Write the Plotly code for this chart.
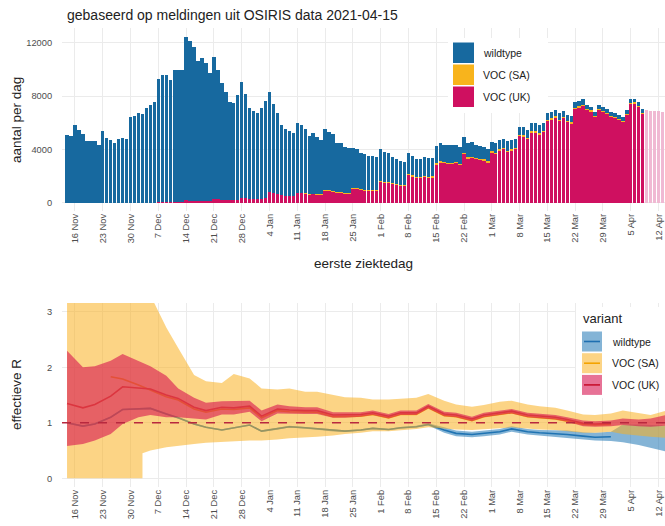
import pandas as pd
import plotly.graph_objects as go

FONT = "Liberation Sans, Arial, Helvetica, sans-serif"
W, H = 665, 526
ML, MR, MT, MB = 62, 0, 28, 39
PW, PH = W - ML - MR, H - MT - MB


def px_x(px):
    return (px - ML) / PW


def px_y(py):
    return (H - MB - py) / PH


# ---------------- top panel: cases per day by variant ----------------
bar_start = "2020-11-14"
total_per_day = [
    5100, 5000, 5800, 5450, 5150, 4650, 4650, 4600, 4300, 5350,
    4850, 4700, 4450, 4750, 4850, 4800, 6400, 6500, 6700, 6650,
    7100, 7300, 7550, 9250, 9550, 9550, 9200, 9950, 9950, 9950,
    12450, 12150, 11650, 10650, 10850, 10500, 9750, 10950, 9950, 8950,
    8300, 7550, 7500, 8100, 9050, 8150, 7100, 6850, 6750, 7100,
    7600, 8300, 7400, 6700, 5850, 5550, 5350, 5250, 6000, 5850,
    5500, 5000, 5200, 4900, 4700, 5550, 5300, 5150, 4500, 4450,
    4200, 4100, 4100, 4000, 3750, 3650, 3500, 3500, 3450, 4000,
    3800, 3700, 3450, 3300, 3100, 3050, 3700, 3500, 3300, 3300,
    3450, 3350, 3350, 4250, 4450, 4350, 4300, 4300, 4350, 4150,
    4900, 4450, 4550, 4350, 4250, 4200, 4000, 4550, 4450, 4700,
    4800, 4600, 4700, 4800, 5700, 5650, 5450, 5950, 5950, 5800,
    6000, 6700, 6800, 6950, 6700, 6900, 6600, 6500, 7550, 7650,
    7750, 7300, 7200, 6800, 7300, 7150, 7000, 6800, 6700, 6550,
    6400, 6950, 7750, 7800, 7550, 7000,
]
voc_uk = [
    0, 0, 0, 0, 0, 0, 0, 0, 0, 0,
    0, 0, 0, 0, 0, 0, 0, 0, 0, 0,
    0, 0, 0, 40, 45, 45, 45, 50, 50, 50,
    170, 165, 160, 150, 150, 150, 140, 260, 250, 230,
    210, 190, 190, 200, 380, 350, 310, 300, 290, 310,
    330, 780, 700, 640, 560, 530, 510, 500, 740, 720,
    690, 640, 660, 630, 600, 940, 900, 880, 770, 760,
    720, 700, 1060, 1040, 980, 950, 910, 910, 900, 1620,
    1550, 1510, 1420, 1360, 1280, 1260, 2110, 2000, 1890, 1890,
    1970, 1910, 1920, 2900, 3050, 3000, 2950, 2950, 3000, 2850,
    3700, 3350, 3400, 3300, 3250, 3200, 3050, 3800, 3700, 3950,
    4050, 3850, 3950, 4050, 5050, 5000, 4800, 5300, 5300, 5150,
    5350, 6180, 6280, 6430, 6180, 6380, 6080, 5980, 7080, 7180,
    7280, 6970, 6870, 6470, 6970, 6820, 6670, 6470, 6370, 6220,
    6070, 6620, 7420, 7470, 7220, 6670,
]
voc_sa = [
    0, 0, 0, 0, 0, 0, 0, 0, 0, 0,
    0, 0, 0, 0, 0, 0, 0, 0, 0, 0,
    0, 0, 0, 0, 0, 0, 0, 0, 0, 0,
    0, 0, 0, 0, 0, 0, 0, 0, 0, 0,
    0, 0, 0, 0, 0, 0, 0, 0, 0, 0,
    0, 0, 0, 0, 0, 0, 0, 0, 0, 0,
    20, 20, 20, 20, 20, 20, 20, 20, 20, 20,
    20, 20, 40, 40, 40, 40, 40, 40, 40, 40,
    40, 40, 40, 40, 40, 40, 50, 50, 50, 50,
    50, 50, 50, 50, 50, 50, 50, 50, 50, 50,
    60, 60, 60, 60, 60, 60, 60, 60, 60, 60,
    60, 60, 60, 60, 60, 60, 60, 60, 60, 60,
    60, 60, 60, 60, 60, 60, 60, 60, 60, 60,
    60, 60, 60, 60, 60, 60, 60, 60, 60, 60,
    60, 60, 60, 60, 60, 60,
]
incomplete_start = "2021-04-09"
incomplete_total = [6950, 6900, 6880, 6850, 6800]

week_labels = ["16 Nov", "23 Nov", "30 Nov", "7 Dec", "14 Dec", "21 Dec", "28 Dec",
               "4 Jan", "11 Jan", "18 Jan", "25 Jan", "1 Feb", "8 Feb", "15 Feb",
               "22 Feb", "1 Mar", "8 Mar", "15 Mar", "22 Mar", "29 Mar", "5 Apr", "12 Apr"]
count_ticks = [0, 4000, 8000, 12000]
r_ticks = [0, 1, 2, 3]

# ---------------- bottom panel: effective R per variant ----------------
r_dates = ["2020-11-14", "2020-11-18", "2020-11-21", "2020-11-25", "2020-11-28",
           "2020-12-02", "2020-12-05", "2020-12-09", "2020-12-12", "2020-12-16",
           "2020-12-19", "2020-12-23", "2020-12-26", "2020-12-30", "2021-01-02",
           "2021-01-06", "2021-01-09", "2021-01-13", "2021-01-16", "2021-01-20",
           "2021-01-23", "2021-01-27", "2021-01-30", "2021-02-03", "2021-02-06",
           "2021-02-10", "2021-02-13", "2021-02-17", "2021-02-20", "2021-02-24",
           "2021-02-27", "2021-03-03", "2021-03-06", "2021-03-10", "2021-03-13",
           "2021-03-17", "2021-03-20", "2021-03-24", "2021-03-27", "2021-03-31",
           "2021-04-03", "2021-04-07", "2021-04-10", "2021-04-14"]
wt_r = [1.00, 0.94, 0.98, 1.10, 1.24, 1.25, 1.26, 1.16, 1.09, 0.98,
        0.92, 0.87, 0.91, 0.96, 0.85, 0.89, 0.93, 0.91, 0.89, 0.86,
        0.85, 0.87, 0.90, 0.88, 0.91, 0.93, 0.97, 0.87, 0.81, 0.79,
        0.81, 0.84, 0.89, 0.84, 0.82, 0.81, 0.79, 0.76, 0.74, 0.75,
        None, None, None, None]
wt_hi = [1.015, 0.955, 0.995, 1.115, 1.255, 1.265, 1.275, 1.175, 1.105, 0.995,
         0.935, 0.885, 0.925, 0.975, 0.865, 0.905, 0.945, 0.925, 0.905, 0.875,
         0.865, 0.885, 0.915, 0.895, 0.925, 0.945, 0.99, 0.92, 0.86, 0.84,
         0.86, 0.89, 0.94, 0.89, 0.87, 0.87, 0.86, 0.83, 0.82, 0.84,
         0.97, 0.97, 0.96, 0.95]
wt_lo = [0.985, 0.925, 0.965, 1.085, 1.225, 1.235, 1.245, 1.145, 1.075, 0.965,
         0.905, 0.855, 0.895, 0.945, 0.835, 0.875, 0.915, 0.895, 0.875, 0.845,
         0.835, 0.855, 0.885, 0.865, 0.895, 0.915, 0.95, 0.82, 0.76, 0.74,
         0.76, 0.79, 0.84, 0.79, 0.77, 0.75, 0.72, 0.70, 0.68, 0.67,
         0.65, 0.60, 0.55, 0.48]
sa_r = [None, None, None, 1.83, 1.79, 1.68, 1.59, 1.47, 1.41, 1.25,
        1.19, 1.25, 1.24, 1.27, 1.09, 1.22, 1.20, 1.19, 1.19, 1.11,
        1.11, 1.12, 1.15, 1.09, 1.15, 1.15, 1.27, 1.13, 1.11, 1.04,
        1.11, 1.15, 1.18, 1.11, 1.09, 1.07, 1.03, 0.97, 0.96, 0.97,
        None, None, None, None]
sa_hi = [4.0, 4.0, 4.0, 4.0, 4.0, 4.0, 3.3, 2.72, 2.35, 1.86,
         1.75, 1.72, 1.88, 1.80, 1.62, 1.60, 1.62, 1.56, 1.56, 1.50,
         1.46, 1.45, 1.42, 1.42, 1.43, 1.45, 1.52, 1.40, 1.33, 1.29,
         1.32, 1.38, 1.40, 1.33, 1.30, 1.27, 1.22, 1.15, 1.14, 1.17,
         1.22, 1.17, 1.14, 1.22]
sa_lo_dates = ["2020-11-14", "2020-12-03", "2020-12-03"] + r_dates[6:]
sa_lo = [0.0, 0.0, 0.45,
         0.50, 0.56, 0.59, 0.62, 0.64, 0.66, 0.67, 0.68, 0.68, 0.70,
         0.72, 0.74, 0.75, 0.77, 0.80, 0.82, 0.85, 0.85, 0.86, 0.89,
         0.92, 0.90, 0.88, 0.87, 0.88, 0.90, 0.92, 0.90, 0.88, 0.87,
         0.85, 0.82, 0.82, 0.84, 0.80, 0.77, 0.75, 0.73]
uk_r = [1.35, 1.27, 1.33, 1.48, 1.65, 1.63, 1.61, 1.50, 1.44, 1.28,
        1.22, 1.28, 1.27, 1.30, 1.12, 1.25, 1.23, 1.22, 1.22, 1.14,
        1.14, 1.15, 1.18, 1.12, 1.18, 1.18, 1.30, 1.16, 1.14, 1.07,
        1.14, 1.18, 1.21, 1.14, 1.12, 1.10, 1.06, 0.99, 0.98, 0.99,
        None, None, None, None]
uk_hi = [2.30, 2.00, 2.02, 2.12, 2.24, 2.12, 2.02, 1.85, 1.62, 1.45,
         1.36, 1.39, 1.40, 1.40, 1.22, 1.33, 1.30, 1.28, 1.28, 1.19,
         1.19, 1.19, 1.22, 1.16, 1.22, 1.22, 1.34, 1.20, 1.18, 1.11,
         1.18, 1.22, 1.25, 1.18, 1.16, 1.14, 1.10, 1.04, 1.03, 1.04,
         1.08, 1.06, 1.08, 1.14]
uk_lo = [0.58, 0.62, 0.68, 0.80, 0.98, 1.10, 1.14, 1.10, 1.10, 1.08,
         1.06, 1.15, 1.15, 1.20, 1.03, 1.17, 1.16, 1.16, 1.16, 1.09,
         1.09, 1.11, 1.14, 1.08, 1.14, 1.14, 1.26, 1.12, 1.10, 1.03,
         1.10, 1.14, 1.17, 1.10, 1.08, 1.06, 1.02, 0.94, 0.93, 0.94,
         0.96, 0.94, 0.93, 0.95]

variant_names = ["wildtype", "VOC (SA)", "VOC (UK)"]

# ---------------- derived ----------------
bar_dates = pd.date_range(bar_start, periods=len(total_per_day), freq="D")
wildtype = [t - u - s for t, u, s in zip(total_per_day, voc_uk, voc_sa)]
inc_dates = pd.date_range(incomplete_start, periods=len(incomplete_total), freq="D")
week_ticks = pd.date_range("2020-11-16", periods=len(week_labels), freq="7D")
x_range = ["2020-11-12 17:30", "2021-04-13 15:00"]

# colours
C_WT, C_SA, C_UK, C_INC = "#17699F", "#F8B41C", "#CF1060", "#F0B9D3"
L_WT, L_SA, L_UK = "#1F6FB0", "#F4A300", "#C8102E"
F_WT, F_SA, F_UK = "rgba(31,119,180,0.55)", "rgba(249,177,33,0.55)", "rgba(215,20,80,0.6)"
GRID = "#EBEBEB"
TXT = "#4D4D4D"

fig = go.Figure()

# stacked bars
for vals, col in [(voc_uk, C_UK), (voc_sa, C_SA), (wildtype, C_WT)]:
    fig.add_trace(go.Bar(x=bar_dates, y=vals, marker=dict(color=col, line=dict(width=0)),
                         xaxis="x", yaxis="y", showlegend=False))
fig.add_trace(go.Bar(x=inc_dates, y=incomplete_total, marker=dict(color=C_INC, line=dict(width=0)),
                     xaxis="x", yaxis="y", showlegend=False))

# R lines (drawn first so ribbons tint them)
for vals, col in [(wt_r, L_WT), (sa_r, L_SA), (uk_r, L_UK)]:
    fig.add_trace(go.Scatter(x=r_dates, y=vals, mode="lines", line=dict(color=col, width=1.6),
                             xaxis="x2", yaxis="y2", showlegend=False))

# ribbons
bands = [
    (r_dates, wt_hi, r_dates, wt_lo, F_WT),
    (r_dates, sa_hi, sa_lo_dates, sa_lo, F_SA),
    (r_dates, uk_hi, r_dates, uk_lo, F_UK),
]
for xh, yh, xl, yl, fc in bands:
    fig.add_trace(go.Scatter(x=list(xh) + list(xl)[::-1], y=list(yh) + list(yl)[::-1],
                             mode="lines", fill="toself", fillcolor=fc,
                             line=dict(width=0, color="rgba(0,0,0,0)"),
                             xaxis="x2", yaxis="y2", showlegend=False, hoverinfo="skip"))

top_dom = [px_y(211), 1.0]
bot_dom = [0.0, px_y(303)]

xcommon = dict(type="date", range=x_range, tickvals=week_ticks, ticktext=week_labels,
               tickangle=-90, tickfont=dict(size=9.3, color=TXT, family=FONT),
               showgrid=True, gridcolor=GRID, gridwidth=1, zeroline=False, showline=False,
               ticks="", automargin=False)
ycommon = dict(showgrid=True, gridcolor=GRID, zeroline=False, ticks="outside", ticklen=7,
               tickcolor="rgba(0,0,0,0)", tickfont=dict(size=9.3, color=TXT, family=FONT),
               automargin=False)
fig.update_layout(
    template="none",
    width=W, height=H,
    margin=dict(l=ML, r=MR, t=MT, b=MB, autoexpand=False),
    paper_bgcolor="white", plot_bgcolor="white",
    barmode="stack", bargap=0.14,
    font=dict(family=FONT, color="#222222"),
    xaxis=dict(domain=[0, 1], anchor="y", **xcommon),
    yaxis=dict(domain=top_dom, anchor="x", range=[-620, 13110], tickvals=count_ticks,
               ticktext=[str(v) for v in count_ticks], **ycommon),
    xaxis2=dict(domain=[0, 1], anchor="y2", **xcommon),
    yaxis2=dict(domain=bot_dom, anchor="x2", range=[-0.157, 3.16], tickvals=r_ticks,
                ticktext=[str(v) for v in r_ticks], **ycommon),
)

shapes = []
# R = 1 reference line
shapes.append(dict(type="line", xref="x2 domain", x0=0, x1=1, yref="y2", y0=1, y1=1,
                   line=dict(color="#B8283E", width=1.5, dash="dash"), layer="above"))

# top legend
shapes.append(dict(type="rect", xref="paper", yref="paper", x0=px_x(448), x1=px_x(548),
                   y0=px_y(113), y1=px_y(38), fillcolor="white", line=dict(width=0), layer="above"))
annotations = []
for i, (nm, col) in enumerate(zip(variant_names, [C_WT, C_SA, C_UK])):
    y0 = 42.5 + i * 22
    shapes.append(dict(type="rect", xref="paper", yref="paper", x0=px_x(453), x1=px_x(474),
                       y0=px_y(y0 + 20.5), y1=px_y(y0), fillcolor=col, line=dict(width=0),
                       layer="above"))
    annotations.append(dict(xref="paper", yref="paper", x=px_x(481), y=px_y(y0 + 10.5),
                            text=nm, showarrow=False, xanchor="left", yanchor="middle",
                            font=dict(size=10.5, color="#222222")))

# bottom legend
shapes.append(dict(type="rect", xref="paper", yref="paper", x0=px_x(576), x1=px_x(665),
                   y0=px_y(398), y1=px_y(307), fillcolor="white", line=dict(width=0), layer="above"))
annotations.append(dict(xref="paper", yref="paper", x=px_x(581), y=px_y(318), text="variant",
                        showarrow=False, xanchor="left", yanchor="middle",
                        font=dict(size=13, color="#222222")))
for i, (nm, fc, lc) in enumerate(zip(variant_names, [F_WT, F_SA, F_UK], [L_WT, L_SA, L_UK])):
    y0 = 331.5 + i * 21.7
    shapes.append(dict(type="rect", xref="paper", yref="paper", x0=px_x(582), x1=px_x(602),
                       y0=px_y(y0 + 20), y1=px_y(y0), fillcolor=fc, line=dict(width=0),
                       layer="above"))
    shapes.append(dict(type="line", xref="paper", yref="paper", x0=px_x(584), x1=px_x(600),
                       y0=px_y(y0 + 10), y1=px_y(y0 + 10), line=dict(color=lc, width=1.6),
                       layer="above"))
    annotations.append(dict(xref="paper", yref="paper", x=px_x(610), y=px_y(y0 + 10),
                            text=nm, showarrow=False, xanchor="left", yanchor="middle",
                            font=dict(size=10.5, color="#222222")))

# titles
annotations.append(dict(xref="paper", yref="paper", x=px_x(65), y=px_y(15),
                        text="gebaseerd op meldingen uit OSIRIS data 2021-04-15", showarrow=False,
                        xanchor="left", yanchor="middle", font=dict(size=14, color="#222222")))
annotations.append(dict(xref="paper", yref="paper", x=px_x(16), y=px_y(120), text="aantal per dag",
                        textangle=-90, showarrow=False, xanchor="center", yanchor="middle",
                        font=dict(size=13.5, color="#222222")))
annotations.append(dict(xref="paper", yref="paper", x=px_x(363), y=px_y(263), text="eerste ziektedag",
                        showarrow=False, xanchor="center", yanchor="middle",
                        font=dict(size=13.5, color="#222222")))
annotations.append(dict(xref="paper", yref="paper", x=px_x(16), y=px_y(395), text="effectieve R",
                        textangle=-90, showarrow=False, xanchor="center", yanchor="middle",
                        font=dict(size=13.5, color="#222222")))

fig.update_layout(shapes=shapes, annotations=annotations)
fig.write_html(
    "out.html",
    config={"displayModeBar": False},
    post_script="document.body.style.margin='0';document.body.style.padding='0';"
                "document.body.style.overflow='hidden';",
)
